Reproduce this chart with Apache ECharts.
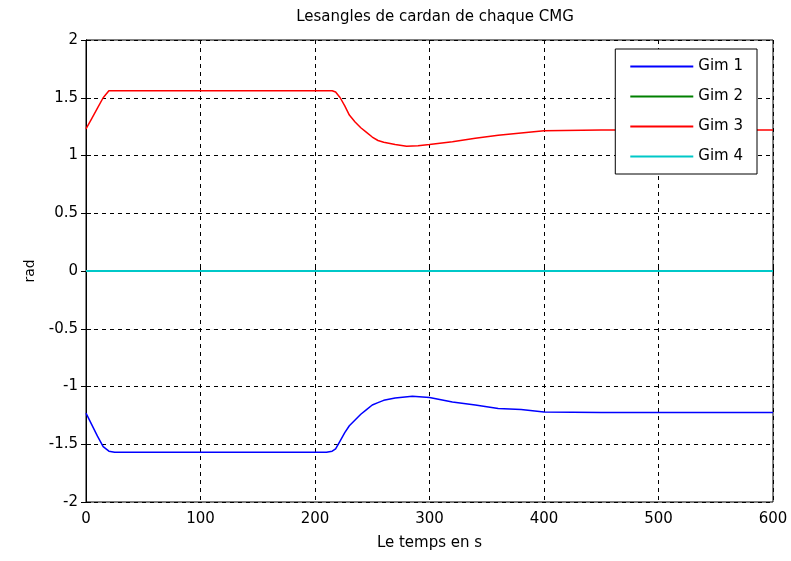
<!DOCTYPE html>
<html>
<head>
    <meta charset="UTF-8">
    <title>cardan</title>
    <script src="https://cdn.jsdelivr.net/npm/echarts@6/dist/echarts.min.js"></script>
    <style>
        *{margin:0;padding:0}
        html,body{width:100%;height:100%;background:#fff}
        #main{width:791px;height:561px}
    </style>
</head>
<body>
    <div id="main"></div>
    <script type="text/javascript">
        // temps (s) et angles (rad)
        var timeGim3 = [0, 5, 10, 15, 20, 215, 218, 222, 226, 230, 235, 240, 245, 250, 255, 260, 270, 280, 290, 300, 320, 340, 360, 380, 400, 450, 500, 550, 600];
        var gim3 = [1.23, 1.32, 1.41, 1.50, 1.56, 1.56, 1.55, 1.50, 1.43, 1.35, 1.29, 1.24, 1.20, 1.16, 1.13, 1.115, 1.095, 1.08, 1.085, 1.095, 1.12, 1.15, 1.175, 1.195, 1.215, 1.22, 1.22, 1.22, 1.22];
        var timeGim1 = [0, 5, 10, 15, 20, 25, 210, 215, 218, 222, 226, 230, 235, 240, 245, 250, 255, 260, 270, 285, 300, 320, 340, 360, 380, 400, 450, 500, 550, 600];
        var gim1 = [-1.23, -1.33, -1.43, -1.52, -1.56, -1.57, -1.57, -1.56, -1.54, -1.47, -1.40, -1.34, -1.29, -1.24, -1.20, -1.16, -1.14, -1.12, -1.10, -1.085, -1.095, -1.135, -1.16, -1.19, -1.20, -1.22, -1.225, -1.225, -1.225, -1.225];
        var timeFlat = [0, 600];
        var gim2 = [0, 0];
        var gim4 = [0, 0];
        var names = ['Gim 1', 'Gim 2', 'Gim 3', 'Gim 4'];
        var colors = ['#0000ff', '#008000', '#ff0000', '#00c8c8'];

        function pairs(t, v) {
            return t.map(function (x, i) { return [x, v[i]]; });
        }

        var font = '"DejaVu Sans", Verdana, sans-serif';
        var myChart = echarts.init(document.getElementById('main'));
        var dashed = {show: true, lineStyle: {color: '#000', type: [4, 4], width: 1}};

        option = {
            backgroundColor: '#fff',
            animation: false,
            color: colors,
            title: {
                text: 'Lesangles de cardan de chaque CMG',
                left: 430, top: 5, textAlign: 'center',
                textStyle: {fontFamily: font, fontSize: 15, fontWeight: 'normal', color: '#000'}
            },
            grid: {left: 86, right: 18, top: 40, bottom: 59, show: true, borderColor: '#000', borderWidth: 1},
            legend: {
                orient: 'vertical', right: 34, top: 49,
                backgroundColor: '#fff', borderColor: '#000', borderWidth: 1,
                padding: [10, 14, 10, 14], itemGap: 15, itemWidth: 63, itemHeight: 14,
                itemStyle: {opacity: 0},
                textStyle: {fontFamily: font, fontSize: 15, color: '#000'},
                data: names
            },
            xAxis: [{
                type: 'value', min: 0, max: 600, interval: 100,
                name: 'Le temps en s', nameLocation: 'middle', nameGap: 34,
                nameTextStyle: {fontFamily: font, fontSize: 15, color: '#000'},
                axisLine: {lineStyle: {color: '#000'}},
                axisTick: {inside: true, length: 5, lineStyle: {color: '#000'}},
                axisLabel: {fontFamily: font, fontSize: 15, color: '#000', margin: 10},
                splitLine: dashed
            }, {
                type: 'value', min: 0, max: 600, interval: 100, position: 'top',
                axisLine: {lineStyle: {color: '#000'}},
                axisTick: {inside: true, length: 5, lineStyle: {color: '#000'}},
                axisLabel: {show: false}, splitLine: {show: false}
            }],
            yAxis: [{
                type: 'value', min: -2, max: 2, interval: 0.5,
                name: 'rad', nameLocation: 'middle', nameGap: 44, nameRotate: 90,
                nameTextStyle: {fontFamily: font, fontSize: 14, color: '#000'},
                axisLine: {show: true, lineStyle: {color: '#000'}},
                axisTick: {show: true, inside: true, length: 5, lineStyle: {color: '#000'}},
                axisLabel: {fontFamily: font, fontSize: 15, color: '#000', margin: 8},
                splitLine: dashed
            }, {
                type: 'value', min: -2, max: 2, interval: 0.5, position: 'right',
                axisLine: {show: true, lineStyle: {color: '#000'}},
                axisTick: {show: true, inside: true, length: 5, lineStyle: {color: '#000'}},
                axisLabel: {show: false}, splitLine: {show: false}
            }],
            series: [
                {name: names[0], type: 'line', symbol: 'none', data: pairs(timeGim1, gim1), lineStyle: {width: 1.5}},
                {name: names[1], type: 'line', symbol: 'none', data: pairs(timeFlat, gim2), lineStyle: {width: 1}},
                {name: names[2], type: 'line', symbol: 'none', data: pairs(timeGim3, gim3), lineStyle: {width: 1.5}},
                {name: names[3], type: 'line', symbol: 'none', data: pairs(timeFlat, gim4), lineStyle: {width: 2}}
            ]
        };
        myChart.setOption(option);
    </script>
</body>
</html>
